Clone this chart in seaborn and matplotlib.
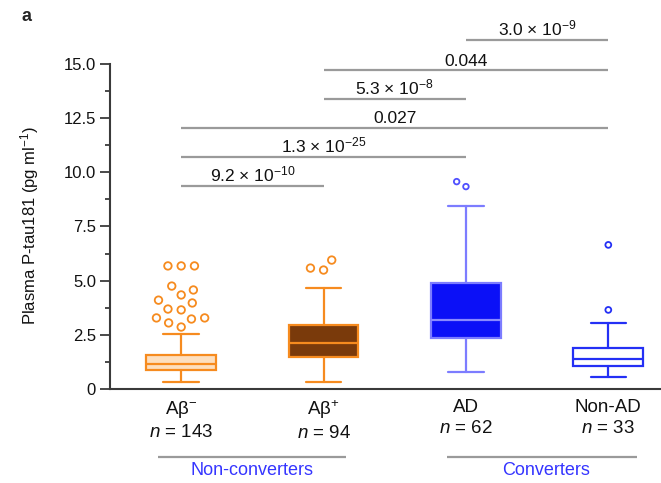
import matplotlib
matplotlib.use("Agg")
import matplotlib.pyplot as plt
from matplotlib.ticker import FixedLocator
import seaborn as sns
import pandas as pd

# ---- data -------------------------------------------------------------
categories = ["Aβ−", "Aβ+", "AD", "Non-AD"]
tick_labels = ["Aβ$^{-}$\n$n$ = 143", "Aβ$^{+}$\n$n$ = 94",
               "AD\n$n$ = 62", "Non-AD\n$n$ = 33"]

whisker_low = [0.31, 0.34, 0.80, 0.55]
quartile_1 = [0.88, 1.46, 2.34, 1.08]
medians = [1.15, 2.11, 3.18, 1.38]
quartile_3 = [1.57, 2.95, 4.88, 1.91]
whisker_high = [2.52, 4.65, 8.46, 3.03]

outliers_ab_neg = [5.68, 5.68, 5.68, 4.75, 4.57, 4.34, 4.10, 3.97, 3.69,
                   3.65, 3.28, 3.23, 3.28, 3.05, 2.86]
outliers_ab_pos = [5.95, 5.58, 5.49]
outliers_ad = [9.57, 9.34]
outliers_non_ad = [6.65, 3.65]

comparison_pairs = [(0, 1), (0, 2), (0, 3), (1, 2), (1, 3), (2, 3)]
p_value_labels = ["9.2 × 10$^{-10}$", "1.3 × 10$^{-25}$", "0.027",
                  "5.3 × 10$^{-8}$", "0.044", "3.0 × 10$^{-9}$"]

group_names = ["Non-converters", "Converters"]

# ---- style ------------------------------------------------------------
sns.set_style("ticks")
plt.rcParams.update({
    "font.family": ["Liberation Sans", "DejaVu Sans"],
    "mathtext.fontset": "custom",
    "mathtext.rm": "Liberation Sans",
    "mathtext.it": "Liberation Sans:italic",
    "mathtext.bf": "Liberation Sans:bold",
    "mathtext.sf": "Liberation Sans",
})

ORANGE = "#f68b1f"
face_colors = ["#fddfbf", "#7a3a0b", "#0b10f7", "#ffffff"]
edge_colors = [ORANGE, ORANGE, "#7c7cff", "#2430f5"]
median_colors = [ORANGE, ORANGE, "#8a8aff", "#2430f5"]
flier_colors = [ORANGE, ORANGE, "#5050ff", "#2430f5"]
flier_sizes = [5.4, 5.4, 4.0, 4.2]        # drawn marker size (pt)
swarm_spacing = [7.8, 7.8, 6.0, 6.0]      # marker size used for swarm layout
AXIS_GREY = "#3a3a3a"
BRACKET_GREY = "#9a9a9a"
GROUP_BLUE = "#3535ff"

fig = plt.figure(figsize=(6.61, 4.83), dpi=100)
px_per_unit = 21.67
y_top = 17.3
ax = fig.add_axes([110 / 661, 94 / 483, 551 / 661, y_top * px_per_unit / 483])

# ---- boxes ------------------------------------------------------------
for i in range(len(categories)):
    stats = [dict(med=medians[i], q1=quartile_1[i], q3=quartile_3[i],
                  whislo=whisker_low[i], whishi=whisker_high[i], fliers=[])]
    ax.bxp(stats, positions=[i], widths=0.49, capwidths=0.25,
           patch_artist=True, showfliers=False, manage_ticks=False,
           boxprops=dict(facecolor=face_colors[i], edgecolor=edge_colors[i],
                         linewidth=1.6),
           medianprops=dict(color=median_colors[i], linewidth=1.6),
           whiskerprops=dict(color=edge_colors[i], linewidth=1.6),
           capprops=dict(color=edge_colors[i], linewidth=1.6))

# ---- outliers: swarm layout from seaborn ------------------------------
all_outliers = [outliers_ab_neg, outliers_ab_pos, outliers_ad, outliers_non_ad]
swarm_collections = []
for i, cat in enumerate(categories):
    flier_df = pd.DataFrame({"group": [cat] * len(all_outliers[i]),
                             "value": all_outliers[i]})
    n_before = len(ax.collections)
    sns.swarmplot(data=flier_df, x="group", y="value", order=categories,
                  ax=ax, size=swarm_spacing[i], color=flier_colors[i],
                  linewidth=1.3, edgecolor=flier_colors[i],
                  facecolor="none", zorder=4)
    swarm_collections.extend((i, c) for c in ax.collections[n_before:])

# ---- significance brackets --------------------------------------------
bracket_heights = [9.37, 10.72, 12.06, 13.40, 14.72, 16.10]
for (a, b), h, lab in zip(comparison_pairs, bracket_heights, p_value_labels):
    ax.plot([a, b], [h, h], color=BRACKET_GREY, lw=1.6, clip_on=False,
            solid_capstyle="butt")
    ax.annotate(lab, xy=((a + b) / 2, h), xytext=(0, 3.2),
                textcoords="offset points", ha="center", va="baseline",
                fontsize=12.5, color="#111111", annotation_clip=False)

# ---- axes -------------------------------------------------------------
ax.set_xlim(-0.5, 3.37)
ax.set_ylim(0, y_top)
ax.set_xlabel("")
ax.set_ylabel("")
ax.xaxis.set_major_locator(FixedLocator(range(len(categories))))
ax.set_xticklabels(tick_labels, fontsize=13.5, linespacing=1.3)
ax.tick_params(axis="x", length=0, pad=7, colors="#111111")
ax.set_yticks([0, 2.5, 5, 7.5, 10, 12.5, 15])
ax.set_yticklabels(["0", "2.5", "5.0", "7.5", "10.0", "12.5", "15.0"],
                   fontsize=12)
ax.yaxis.set_minor_locator(FixedLocator([1.25, 3.75, 6.25, 8.75, 11.25, 13.75]))
ax.tick_params(axis="y", which="major", length=7, width=1.3,
               color=AXIS_GREY, labelcolor="#111111", pad=3)
ax.tick_params(axis="y", which="minor", length=3.5, width=1.3,
               color=AXIS_GREY)
sns.despine(ax=ax)
ax.spines["left"].set_bounds(0, 15)
for side in ("left", "bottom"):
    ax.spines[side].set_color(AXIS_GREY)
    ax.spines[side].set_linewidth(1.5)
ax.set_facecolor("none")

# ---- group captions under the axis -------------------------------------
group_spans = [(-0.16, 1.16), (1.87, 3.20)]
group_text_x = [0.50, 2.56]
for (x0, x1), tx, name in zip(group_spans, group_text_x, group_names):
    ax.plot([x0, x1], [-3.14, -3.14], color=BRACKET_GREY, lw=1.6,
            clip_on=False, solid_capstyle="butt")
    ax.text(tx, -3.78, name, ha="center", va="center", fontsize=13,
            color=GROUP_BLUE, clip_on=False)

fig.text(30 / 661, 1 - 226 / 483, "Plasma P-tau181 (pg ml$^{-1}$)",
         rotation=90, ha="center", va="center", fontsize=12, color="#111111")
fig.text(21 / 661, 1 - 8 / 483, "a", ha="left", va="top", fontsize=13,
         fontweight="bold")

# Resolve the swarm positions, then redraw the outliers as open circles
# slightly smaller than the spacing used for the layout.
fig.canvas.draw()
for grp, coll in swarm_collections:
    offsets = coll.get_offsets()
    coll.remove()
    if len(offsets) == 0:
        continue
    ax.scatter(offsets[:, 0], offsets[:, 1], s=flier_sizes[grp] ** 2,
               facecolors="none", edgecolors=flier_colors[grp],
               linewidths=1.3, zorder=4, clip_on=False)

fig.savefig("out.png", dpi=100)
